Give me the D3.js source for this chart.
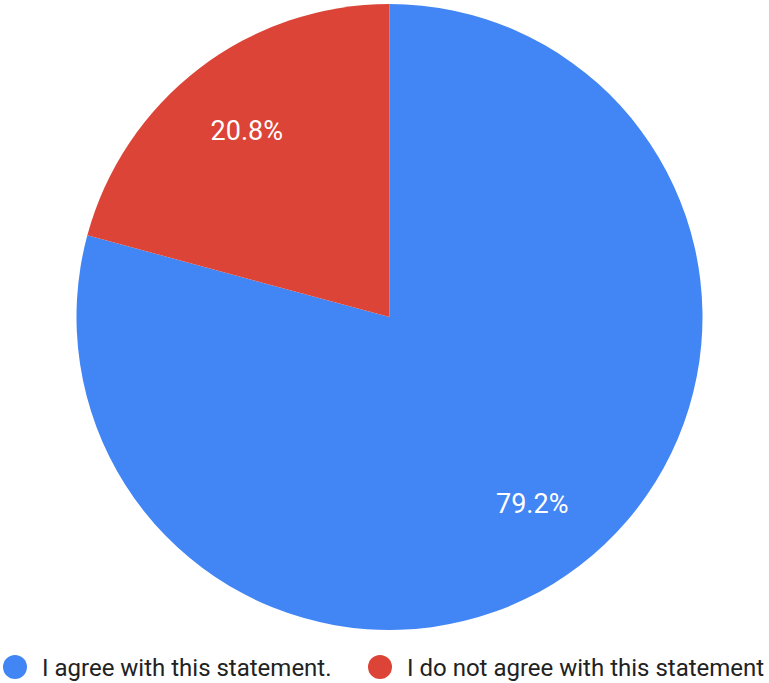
<!doctype html>
<html>
  <head>
    <meta charset="utf-8">
    <title>Pie chart</title>
    <script src="https://cdnjs.cloudflare.com/ajax/libs/d3/7.8.5/d3.min.js"></script>
    <style>
      html, body { margin: 0; padding: 0; background: #fff; }
      text { font-family: Roboto, "Noto Sans", sans-serif; }
    </style>
  </head>
  <body>
    <div id="chart"></div>
    <script>
      // data
      const labels = ['I agree with this statement.', 'I do not agree with this statement'];
      const values = [79.2, 20.8];
      const colors = ['#4285f4', '#db4437'];

      const width = 769, height = 683;
      const cx = 389.5, cy = 317, radius = 313;

      const svg = d3.select('#chart')
        .append('svg')
        .attr('width', width)
        .attr('height', height);

      const pie = d3.pie().sort(null).value(d => d)(values);
      const arc = d3.arc().innerRadius(0).outerRadius(radius);
      const labelArc = d3.arc().innerRadius(radius * 0.75).outerRadius(radius * 0.75);

      const g = svg.append('g').attr('transform', `translate(${cx},${cy})`);

      g.selectAll('path')
        .data(pie)
        .join('path')
        .attr('d', arc)
        .attr('fill', (d, i) => colors[i]);

      g.selectAll('text.pct')
        .data(pie)
        .join('text')
        .attr('class', 'pct')
        .attr('transform', d => `translate(${labelArc.centroid(d)})`)
        .attr('text-anchor', 'middle')
        .attr('dy', '0.35em')
        .attr('fill', '#fff')
        .style('font-size', '27px')
        .text(d => d.value.toFixed(1) + '%');

      // legend
      const legendX = [15, 380];
      const legend = svg.selectAll('g.legend')
        .data(labels)
        .join('g')
        .attr('class', 'legend')
        .attr('transform', (d, i) => `translate(${legendX[i]},667)`);

      legend.append('circle')
        .attr('r', 12)
        .attr('fill', (d, i) => colors[i]);

      legend.append('text')
        .attr('x', 27)
        .attr('y', 8.5)
        .attr('fill', '#222')
        .style('font-size', '24px')
        .text(d => d);
    </script>
  </body>
</html>
